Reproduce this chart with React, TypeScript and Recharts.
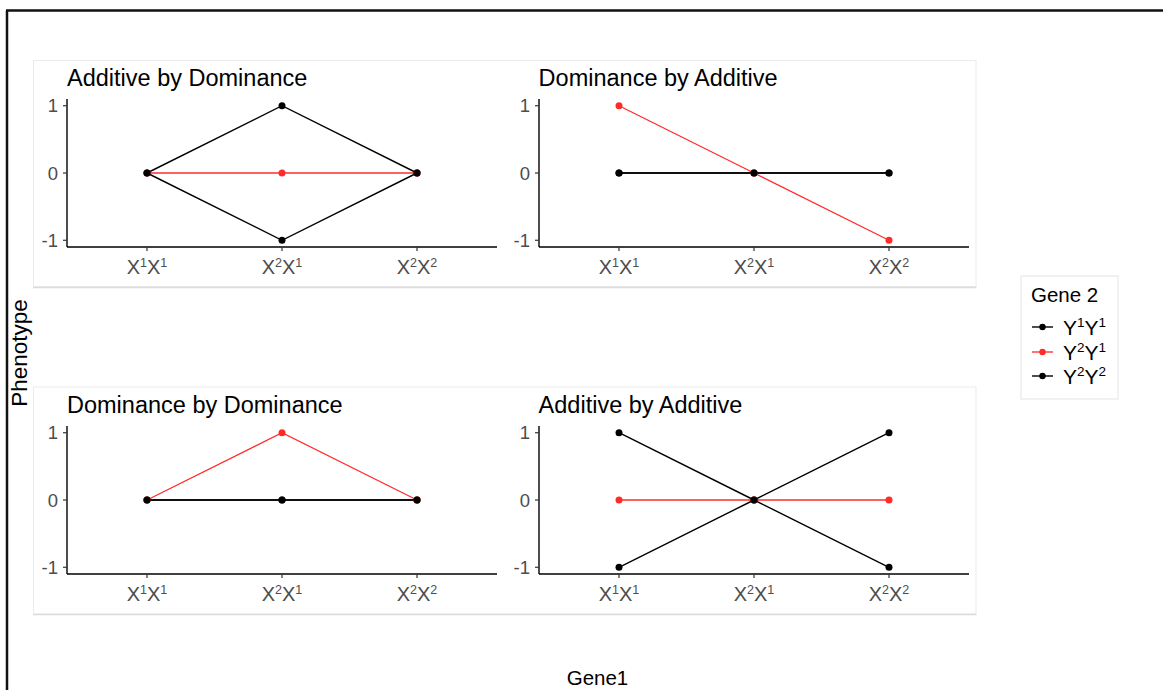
import { Line, LineChart, XAxis, YAxis } from "recharts";

// genotypes of gene 1 (x axis) and gene 2 (series)
const genotypes = ["X1X1", "X2X1", "X2X2"];
const seriesNames = ["Y1Y1", "Y2Y1", "Y2Y2"];
const seriesColors = ["#000000", "#ff2b2b", "#000000"];
const yTicks = [-1, 0, 1];

const panelTitles = [
  "Additive by Dominance",
  "Dominance by Additive",
  "Dominance by Dominance",
  "Additive by Additive",
];

// phenotype values, one array per panel and gene-2 genotype
const addDomY1Y1 = [0, 1, 0];
const addDomY2Y1 = [0, 0, 0];
const addDomY2Y2 = [0, -1, 0];

const domAddY1Y1 = [0, 0, 0];
const domAddY2Y1 = [1, 0, -1];
const domAddY2Y2 = [0, 0, 0];

const domDomY1Y1 = [0, 0, 0];
const domDomY2Y1 = [0, 1, 0];
const domDomY2Y2 = [0, 0, 0];

const addAddY1Y1 = [1, 0, -1];
const addAddY2Y1 = [0, 0, 0];
const addAddY2Y2 = [-1, 0, 1];

const panelValues = [
  [addDomY1Y1, addDomY2Y1, addDomY2Y2],
  [domAddY1Y1, domAddY2Y1, domAddY2Y2],
  [domDomY1Y1, domDomY2Y1, domDomY2Y2],
  [addAddY1Y1, addAddY2Y1, addAddY2Y2],
];

const FONT = '"Liberation Sans", Arial, Helvetica, sans-serif';
const PANEL_W = 472;
const PANEL_H = 228;
const panelPos = [
  { left: 33, top: 60 },
  { left: 504.6, top: 60 },
  { left: 33, top: 386.5 },
  { left: 504.6, top: 386.5 },
];

// "X1X1" -> X¹X¹ drawn with tspans (first tspan has no dy so the text's own y stands)
function SupLabel({ text, size, supSize, rise }: { text: string; size: number; supSize: number; rise: number }) {
  const parts = text.match(/[A-Z]\d/g) || [];
  const out: any[] = [];
  parts.forEach((p, i) => {
    out.push(
      <tspan key={"b" + i} fontSize={size} dy={i === 0 ? undefined : rise}>
        {p[0]}
      </tspan>
    );
    out.push(
      <tspan key={"s" + i} fontSize={supSize} dy={-rise}>
        {p[1]}
      </tspan>
    );
  });
  return <>{out}</>;
}

function GenoTick(props: any) {
  const { x, y, payload } = props;
  return (
    <text x={x} y={y + 14} textAnchor="middle" fill="#4d4d4d" fontFamily={FONT}>
      <SupLabel text={payload.value} size={20} supSize={12.5} rise={7} />
    </text>
  );
}

function Panel({ idx }: { idx: number }) {
  const vals = panelValues[idx];
  const rows = genotypes.map((g, i) => {
    const row: any = { g };
    seriesNames.forEach((s, k) => {
      row[s] = vals[k][i];
    });
    return row;
  });
  const pos = panelPos[idx];
  return (
    <div style={{ position: "absolute", left: pos.left, top: pos.top, width: PANEL_W, height: PANEL_H }}>
      <LineChart
        width={PANEL_W}
        height={PANEL_H}
        data={rows}
        margin={{ top: 39, right: 8, bottom: 0, left: 0 }}
      >
        <XAxis
          dataKey="g"
          type="category"
          padding={{ left: 80, right: 80 }}
          height={41}
          tickSize={4}
          tickMargin={8.6}
          axisLine={{ stroke: "#000", strokeWidth: 1.4 }}
          tickLine={{ stroke: "#333", strokeWidth: 1.2 }}
          tick={<GenoTick />}
          interval={0}
        />
        <YAxis
          type="number"
          domain={[-1.1, 1.1]}
          ticks={yTicks}
          allowDataOverflow
          width={34}
          tickSize={4}
          tickMargin={5}
          axisLine={{ stroke: "#000", strokeWidth: 1.4 }}
          tickLine={{ stroke: "#333", strokeWidth: 1.2 }}
          tick={{ fill: "#4d4d4d", fontSize: 18.5, fontFamily: FONT }}
        />
        {seriesNames.map((s, k) => (
          <Line
            key={s}
            dataKey={s}
            type="linear"
            stroke={seriesColors[k]}
            strokeWidth={k === 1 ? 1.3 : 1.4}
            dot={{ r: 3.5, fill: seriesColors[k], stroke: seriesColors[k], strokeWidth: 0 }}
            activeDot={false}
            isAnimationActive={false}
          />
        ))}
      </LineChart>
      <div
        style={{
          position: "absolute",
          left: 34,
          top: 7.1,
          fontFamily: FONT,
          fontSize: 23.5,
          lineHeight: "23.5px",
          color: "#000",
          whiteSpace: "nowrap",
        }}
      >
        {panelTitles[idx]}
      </div>
    </div>
  );
}

export default function App() {
  const legendRows = [327, 352, 376];
  return (
    <div style={{ position: "absolute", left: 0, top: 0, width: 1163, height: 690, background: "#fff", overflow: "hidden" }}>
      <svg width={1163} height={690} style={{ position: "absolute", left: 0, top: 0 }}>
        {/* outer frame */}
        <line x1={7} y1={10.5} x2={7} y2={690} stroke="#111" strokeWidth={2.5} />
        <line x1={6} y1={10.5} x2={1163} y2={10.5} stroke="#111" strokeWidth={2.5} />
        {/* facet row boxes */}
        <rect x={33.5} y={60.5} width={942.5} height={226} fill="#fff" stroke="#ebebeb" strokeWidth={1} />
        <line x1={33} y1={287.5} x2={976.5} y2={287.5} stroke="#dcdcdc" strokeWidth={1.5} />
        <rect x={33.5} y={387} width={942.5} height={227} fill="#fff" stroke="#ebebeb" strokeWidth={1} />
        <line x1={33} y1={614.5} x2={976.5} y2={614.5} stroke="#dcdcdc" strokeWidth={1.5} />
        {/* axis titles */}
        <text
          x={27}
          y={353}
          transform="rotate(-90 27 353)"
          textAnchor="middle"
          fontFamily={FONT}
          fontSize={22.5}
          fill="#000"
        >
          Phenotype
        </text>
        <text x={597.5} y={685} textAnchor="middle" fontFamily={FONT} fontSize={20.5} fill="#000">
          Gene1
        </text>
        {/* legend */}
        <rect x={1021} y={276} width={97} height={123} fill="#fff" stroke="#e3e3e3" strokeWidth={1} />
        <text x={1031} y={302} fontFamily={FONT} fontSize={20.5} fill="#000">
          Gene 2
        </text>
        {seriesNames.map((s, k) => (
          <g key={s}>
            <line
              x1={1032}
              x2={1053}
              y1={legendRows[k]}
              y2={legendRows[k]}
              stroke={seriesColors[k]}
              strokeWidth={k === 1 ? 1.3 : 1.4}
            />
            <circle cx={1042.5} cy={legendRows[k]} r={3.2} fill={seriesColors[k]} />
            <text x={1063} y={legendRows[k] + 7.5} fontFamily={FONT} fill="#000">
              <SupLabel text={s} size={21} supSize={13.5} rise={7.5} />
            </text>
          </g>
        ))}
      </svg>
      {panelTitles.map((t, i) => (
        <Panel key={t} idx={i} />
      ))}
    </div>
  );
}
